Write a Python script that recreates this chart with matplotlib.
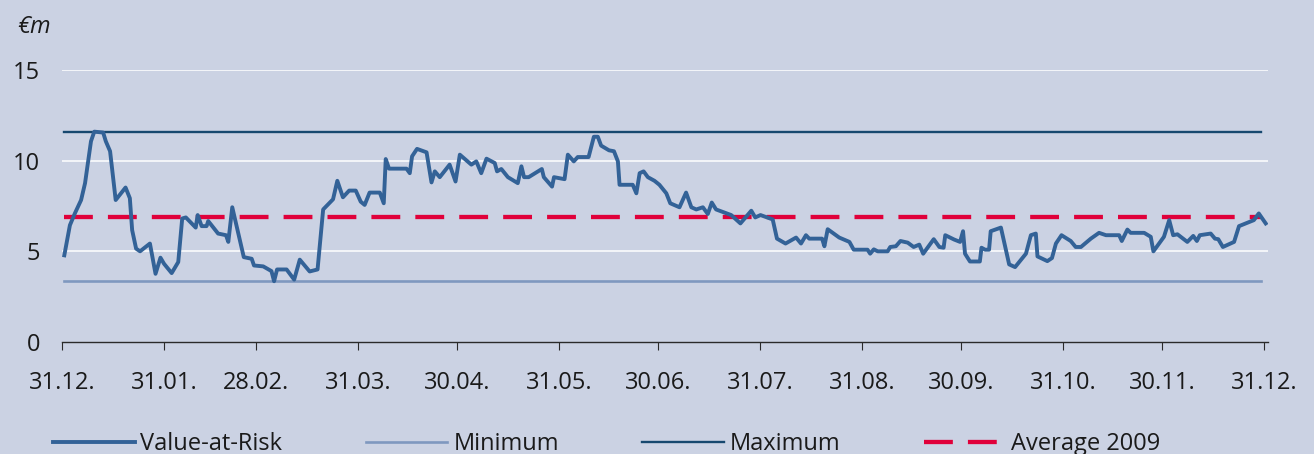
import matplotlib
matplotlib.use("Agg")
import matplotlib.pyplot as plt

# ---- data (day offset from 31.12.2008, VaR in EUR m) ----
days = [0.7, 2.4, 3.9, 5.8, 7.0, 8.0, 8.8, 9.8, 12.5, 13.3, 14.6, 16.3, 19.3, 20.6, 21.3, 22.5,
        23.7, 26.7, 28.4, 29.9, 31.0, 33.3, 35.3, 36.5, 37.6, 40.6, 41.2, 42.4, 43.9, 44.4, 47.4,
        49.8, 50.5, 51.7, 53.3, 55.2, 57.6, 58.3, 61.1, 63.6, 64.4, 65.3, 68.2, 70.5, 72.2, 75.2,
        77.6, 79.3, 82.3, 83.6, 85.3, 87.2, 89.2, 90.7, 91.9, 93.4, 96.5, 97.7, 98.3, 99.3, 104.6,
        105.6, 106.3, 107.8, 110.7, 112.2, 113.2, 114.7, 117.7, 119.5, 120.8, 124.3, 125.8, 127.3,
        128.9, 131.4, 132.1, 133.4, 135.4, 138.4, 139.5, 140.3, 141.7, 145.7, 146.3, 148.8, 149.4,
        152.6, 153.6, 155.4, 156.6, 159.9, 161.5, 162.7, 163.7, 166.1, 167.6, 168.8, 169.3, 173.3,
        174.4, 175.4, 176.6, 177.9, 179.9, 181.4, 183.5, 184.7, 187.5, 189.5, 191.1, 192.6, 194.6,
        196.1, 197.3, 198.6, 203.2, 206.0, 209.3, 210.5, 212.1, 215.8, 217.1, 219.7, 222.9, 224.4,
        225.9, 226.9, 230.8, 231.5, 232.5, 236.0, 239.1, 240.4, 244.6, 245.4, 246.5, 247.7, 250.7,
        251.5, 253.2, 254.6, 256.8, 258.6, 260.3, 261.5, 264.7, 266.4, 267.7, 268.2, 270.9, 272.7,
        273.6, 274.2, 275.7, 278.7, 279.2, 280.3, 281.5, 282.0, 285.1, 287.6, 289.4, 292.7, 294.2,
        295.7, 296.2, 299.2, 300.6, 301.8, 303.5, 306.3, 307.8, 309.4, 312.4, 314.9, 317.0, 321.0,
        321.8, 323.5, 324.5, 328.6, 330.6, 331.4, 334.6, 336.2, 337.4, 338.7, 341.7, 343.5, 344.6,
        345.5, 348.8, 350.1, 351.1, 352.5, 355.9, 357.4, 361.9, 363.4, 365.5]
var = [4.78, 6.44, 7.09, 7.83, 8.76, 10.06, 11.07, 11.6, 11.55, 11.07, 10.52, 7.83, 8.52, 7.93, 6.17, 5.15,
       5.0, 5.43, 3.76, 4.65, 4.31, 3.80, 4.41, 6.81, 6.87, 6.31, 7.0, 6.39, 6.39, 6.67, 5.98,
       5.89, 5.52, 7.43, 6.17, 4.68, 4.59, 4.22, 4.17, 3.91, 3.35, 4.0, 4.0, 3.44, 4.54, 3.89,
       4.0, 7.31, 7.87, 8.89, 7.98, 8.35, 8.35, 7.74, 7.56, 8.24, 8.24, 7.65, 10.09, 9.56, 9.56,
       9.31, 10.24, 10.65, 10.46, 8.80, 9.41, 9.09, 9.78, 8.85, 10.33, 9.78, 9.96, 9.31,
       10.11, 9.87, 9.41, 9.54, 9.09, 8.76, 9.69, 9.09, 9.09, 9.54, 9.09, 8.57, 9.09,
       8.98, 10.33, 9.96, 10.2, 10.2, 11.32, 11.32, 10.83, 10.57, 10.52, 9.96, 8.67, 8.67,
       8.2, 9.31, 9.41, 9.09, 8.89, 8.67, 8.2, 7.65, 7.43, 8.24, 7.43, 7.31, 7.43,
       7.06, 7.69, 7.31, 7.0, 6.54, 7.24, 6.87, 7.0, 6.76, 5.70, 5.43, 5.76, 5.43,
       5.89, 5.70, 5.70, 5.28, 6.22, 5.76, 5.52, 5.09, 5.09, 4.87, 5.11, 5.0, 5.0,
       5.24, 5.28, 5.57, 5.48, 5.24, 5.37, 4.87, 5.67, 5.24, 5.20, 5.89, 5.65, 5.52,
       6.11, 4.87, 4.44, 4.44, 5.20, 5.09, 5.09, 6.11, 6.31, 4.28, 4.13, 4.87, 5.89,
       5.98, 4.72, 4.46, 4.63, 5.43, 5.89, 5.57, 5.24, 5.24, 5.70, 6.02, 5.89, 5.89,
       5.57, 6.20, 6.02, 6.02, 5.80, 5.0, 5.80, 6.72, 5.89, 5.94, 5.52, 5.85, 5.57,
       5.89, 5.98, 5.70, 5.67, 5.24, 5.52, 6.39, 6.72, 7.09, 6.54]
var_min = 3.35
var_max = 11.6
var_avg = 6.9
line_start, line_end = 0.5, 364.0

tick_days = [0, 31, 59, 90, 120, 151, 181, 212, 243, 273, 304, 334, 365]
tick_labels = ["31.12.", "31.01.", "28.02.", "31.03.", "30.04.", "31.05.", "30.06.",
               "31.07.", "31.08.", "30.09.", "31.10.", "30.11.", "31.12."]
y_ticks = [0, 5, 10, 15]

# ---- style ----
BG = "#CBD2E3"
C_VAR = "#336297"
C_MIN = "#7F98BF"
C_MAX = "#17486F"
C_AVG = "#E0003A"
TXT = "#1A1A1A"
FS = 17

plt.rcParams["font.family"] = ["Open Sans", "DejaVu Sans"]

fig = plt.figure(figsize=(13.14, 4.54), dpi=100, facecolor=BG)
ax = fig.add_axes([62 / 1314, 1 - 342 / 454, 1206 / 1314, 272 / 454])
ax.set_facecolor(BG)

ax.set_xlim(0, 366.2)
ax.set_ylim(0, 15)
for y in y_ticks[1:]:
    ax.axhline(y, color="white", lw=1.1, zorder=1)

h_var, = ax.plot(days, var, color=C_VAR, lw=2.8, solid_joinstyle="round", zorder=4,
                 label="Value-at-Risk")
h_min, = ax.plot([line_start, line_end], [var_min, var_min], color=C_MIN, lw=1.9, zorder=3,
                 label="Minimum")
h_max, = ax.plot([line_start, line_end], [var_max, var_max], color=C_MAX, lw=1.7, zorder=3,
                 label="Maximum")
h_avg, = ax.plot([line_start, line_end], [var_avg, var_avg], color=C_AVG, lw=3.1,
                 linestyle=(0, (6.7, 3.5)), zorder=3, label="Average 2009")

for s in ["top", "right", "left"]:
    ax.spines[s].set_visible(False)
ax.spines["bottom"].set_color("#2A2A2A")
ax.spines["bottom"].set_linewidth(1.0)

ax.set_xticks(tick_days)
ax.set_xticklabels(tick_labels)
ax.set_yticks(y_ticks)
ax.set_yticklabels([str(v) for v in y_ticks])
ax.tick_params(axis="x", length=5.8, width=0.8, color="#2A2A2A", pad=15,
               labelsize=FS, labelcolor=TXT)
ax.tick_params(axis="y", length=0, pad=15.8, labelsize=FS, labelcolor=TXT)

fig.text(17 / 1314, 1 - 33 / 454, "€m", fontsize=FS, style="italic", color=TXT,
         ha="left", va="baseline")

leg = fig.legend(handles=[h_var, h_min, h_max, h_avg], loc="center left",
                 bbox_to_anchor=(52.6 / 1314, 1 - 444.5 / 454), ncol=4, frameon=False,
                 fontsize=FS, handlelength=3.47, handletextpad=0.25, columnspacing=3.52,
                 borderpad=0, borderaxespad=0)
for t in leg.get_texts():
    t.set_color(TXT)

fig.savefig("out.png", dpi=100, facecolor=BG)
